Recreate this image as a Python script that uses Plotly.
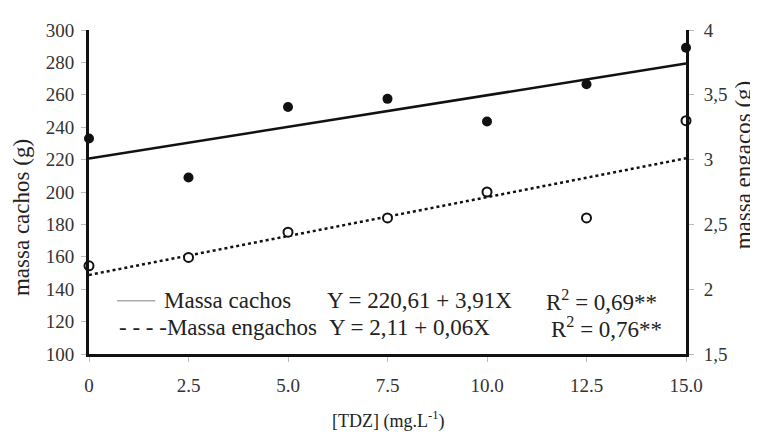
import plotly.graph_objects as go

# ---- data ----
tdz = [0, 2.5, 5.0, 7.5, 10.0, 12.5, 15.0]
x_tick_labels = ["0", "2.5", "5.0", "7.5", "10.0", "12.5", "15.0"]
massa_cachos = [233, 209, 252.5, 257.5, 243.5, 266.5, 289]          # left axis (g)
massa_engacos = [2.18, 2.245, 2.44, 2.55, 2.75, 2.55, 3.30]          # right axis (g)
cachos_coef = (220.61, 3.91)
engacos_coef = (2.11, 0.06)
left_ticks = [100, 120, 140, 160, 180, 200, 220, 240, 260, 280, 300]
right_ticks = [1.5, 2, 2.5, 3, 3.5, 4]
right_tick_labels = ["1,5", "2", "2,5", "3", "3,5", "4"]

FONT = "Times New Roman"
line_x = [tdz[0], tdz[-1]]
cachos_fit = [cachos_coef[0] + cachos_coef[1] * v for v in line_x]
engacos_fit = [engacos_coef[0] + engacos_coef[1] * v for v in line_x]

fig = go.Figure()
fig.add_trace(go.Scatter(x=line_x, y=cachos_fit, mode="lines",
                         line=dict(color="#111", width=2.5), yaxis="y", cliponaxis=False))
fig.add_trace(go.Scatter(x=line_x, y=engacos_fit, mode="lines",
                         line=dict(color="#111", width=2.5, dash="dot"), yaxis="y2", cliponaxis=False))
fig.add_trace(go.Scatter(x=tdz, y=massa_cachos, mode="markers",
                         marker=dict(color="#111", size=10, line=dict(width=0)),
                         yaxis="y", cliponaxis=False))
fig.add_trace(go.Scatter(x=tdz, y=massa_engacos, mode="markers",
                         marker=dict(color="white", size=9, line=dict(color="#111", width=2)),
                         yaxis="y2", cliponaxis=False))

tickfont = dict(family=FONT, size=19, color="#333")
# page body has an 8px margin, so the figure is offset by 8px right and down
fig.update_layout(
    width=750, height=424,
    margin=dict(l=81, r=72, t=17, b=78),
    paper_bgcolor="white", plot_bgcolor="white",
    showlegend=False,
    font=dict(family=FONT),
    xaxis=dict(range=[0, 15], tickvals=tdz, ticktext=x_tick_labels,
               showline=True, linecolor="#111", linewidth=3,
               ticks="outside", ticklen=5, tickcolor="#bbb", tickwidth=1,
               ticklabelstandoff=7,
               showgrid=False, zeroline=False, tickfont=tickfont),
    yaxis=dict(range=[100, 300], tickvals=left_ticks,
               showline=True, linecolor="#111", linewidth=3,
               ticks="outside", ticklen=5, tickcolor="#bbb", tickwidth=1,
               ticklabelstandoff=3,
               showgrid=False, zeroline=False, tickfont=tickfont),
    yaxis2=dict(range=[1.5, 4], tickvals=right_ticks, ticktext=right_tick_labels,
                overlaying="y", side="right",
                showline=True, linecolor="#111", linewidth=3,
                ticks="outside", ticklen=5, tickcolor="#bbb", tickwidth=1,
                ticklabelstandoff=6,
                showgrid=False, zeroline=False, tickfont=tickfont),
)

txt = dict(family=FONT, size=23, color="#222")
ann = [
    dict(text="massa cachos (g)", x=-0.112, y=0.42, xref="paper", yref="paper",
         textangle=-90, showarrow=False, font=txt, xanchor="center", yanchor="middle"),
    dict(text="massa engaços (g)", x=1.097, y=0.585, xref="paper", yref="paper",
         textangle=-90, showarrow=False, font=txt, xanchor="center", yanchor="middle"),
    dict(text="[TDZ] (mg.L<sup>-1</sup>)", x=0.5, y=-0.205, xref="paper", yref="paper",
         showarrow=False, font=dict(family=FONT, size=18, color="#222"),
         xanchor="center", yanchor="middle"),
    dict(text="Massa cachos", x=0.1225, y=0.164, xref="paper", yref="paper",
         showarrow=False, font=txt, xanchor="left", yanchor="middle"),
    dict(text="- - - -Massa engachos", x=0.047, y=0.082, xref="paper", yref="paper",
         showarrow=False, font=txt, xanchor="left", yanchor="middle"),
    dict(text="Y = 220,61 + 3,91X", x=0.396, y=0.164, xref="paper", yref="paper",
         showarrow=False, font=txt, xanchor="left", yanchor="middle"),
    dict(text="Y = 2,11 + 0,06X", x=0.398, y=0.082, xref="paper", yref="paper",
         showarrow=False, font=txt, xanchor="left", yanchor="middle"),
    dict(text="R<sup>2</sup> = 0,69**", x=0.762, y=0.164, xref="paper", yref="paper",
         showarrow=False, font=txt, xanchor="left", yanchor="middle"),
    dict(text="R<sup>2</sup> = 0,76**", x=0.770, y=0.082, xref="paper", yref="paper",
         showarrow=False, font=txt, xanchor="left", yanchor="middle"),
]
fig.update_layout(annotations=ann)
fig.add_shape(type="line", xref="paper", yref="paper", x0=0.047, x1=0.111, y0=0.164, y1=0.164,
              line=dict(color="#aaa", width=1.5))

fig.write_html("out.html")
